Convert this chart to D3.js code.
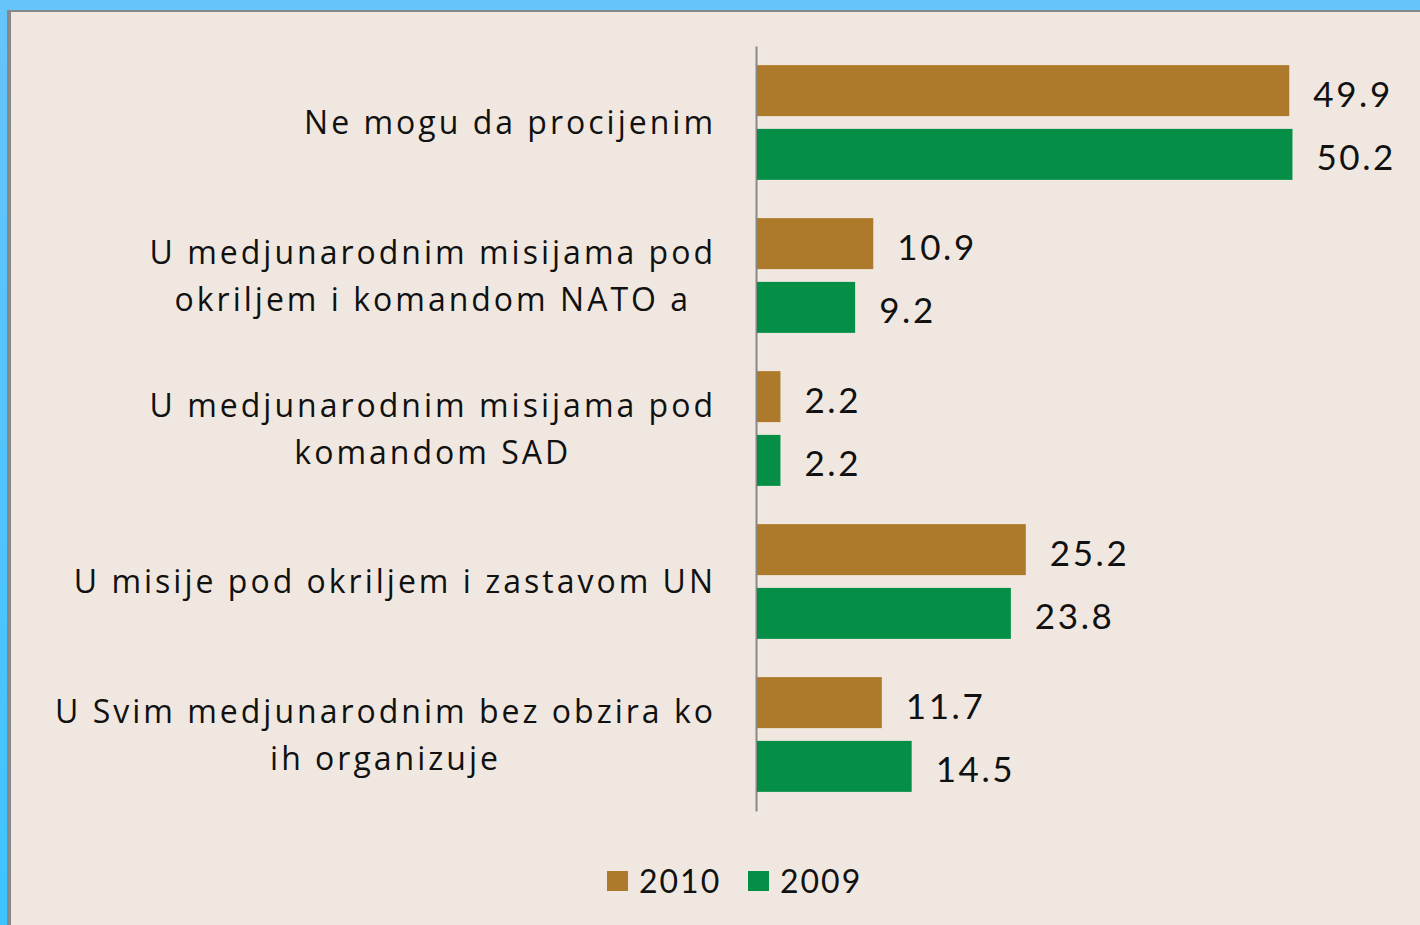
<!DOCTYPE html>
<html>
<head>
<meta charset="utf-8">
<script src="https://cdn.jsdelivr.net/npm/d3@7"></script>
<style>
  html, body { margin: 0; padding: 0; background: #66c4fb; }
  svg { display: block; }
</style>
</head>
<body>
<div id="chart"></div>
<script>
// categories, each one split in lines the way the chart shows them
const categories = [
    ["Ne mogu da procijenim"],
    ["U medjunarodnim misijama pod", "okriljem i komandom NATO a"],
    ["U medjunarodnim misijama pod", "komandom SAD"],
    ["U misije pod okriljem i zastavom UN"],
    ["U Svim medjunarodnim bez obzira ko", "ih organizuje"]
];
const series = ["2010", "2009"];
const values2010 = [49.9, 10.9, 2.2, 25.2, 11.7];
const values2009 = [50.2, 9.2, 2.2, 23.8, 14.5];
const colors = ["#ad7a2c", "#058f46"];

const W = 1420, H = 925;
const svg = d3.select("#chart").append("svg")
    .attr("width", W)
    .attr("height", H);

// outer frame
const defs = svg.append("defs");
const grad = defs.append("linearGradient").attr("id", "bg").attr("x1", 0).attr("y1", 0).attr("x2", 0).attr("y2", 1);
grad.append("stop").attr("offset", 0).attr("stop-color", "#66c4fb");
grad.append("stop").attr("offset", 1).attr("stop-color", "#3ec4ff");
svg.append("rect").attr("width", W).attr("height", H).attr("fill", "url(#bg)");
svg.append("rect").attr("x", 7).attr("y", 10).attr("width", W).attr("height", H).attr("fill", "#888888");
svg.append("rect").attr("x", 11).attr("y", 12).attr("width", W).attr("height", H).attr("fill", "#f0e8e0");

const rows = categories.map((c, i) => ({ label: c, i: i, values: [values2010[i], values2009[i]] }));

const x = d3.scaleLinear().domain([0, 60]).range([757, 1397]);
const y = d3.scaleBand().domain(d3.range(categories.length)).range([46, 811]).paddingInner(0.25).paddingOuter(0.125);
const y1 = d3.scaleBand().domain(series).range([0, y.bandwidth()]).paddingInner(0.2);

const font = "Lato, 'Open Sans', sans-serif";
const labelFont = "'Open Sans', Lato, sans-serif";

// axis line on the left of the bars
svg.append("g")
    .attr("transform", "translate(756,0)")
    .call(d3.axisLeft(d3.scaleLinear().range([46, 811])).ticks(0).tickSizeOuter(0))
    .call(g => g.select(".domain").attr("stroke", "#888888").attr("stroke-width", 2));

const groups = svg.selectAll("g.grp")
    .data(rows)
    .enter()
    .append("g")
    .attr("class", "grp")
    .attr("transform", d => `translate(0,${y(d.i)})`);

const bars = groups.selectAll("g.bar")
    .data(d => d.values.map((v, k) => ({ v: v, s: series[k], k: k })))
    .enter()
    .append("g")
    .attr("class", "bar");

bars.append("rect")
    .attr("x", x(0))
    .attr("y", d => y1(d.s))
    .attr("width", d => x(d.v) - x(0))
    .attr("height", y1.bandwidth())
    .attr("fill", d => colors[d.k]);

bars.append("text")
    .attr("x", d => x(d.v) + 24)
    .attr("y", d => y1(d.s) + y1.bandwidth() / 2 + 2)
    .attr("dominant-baseline", "central")
    .attr("font-family", font)
    .attr("font-size", 35)
    .attr("letter-spacing", 2.6)
    .attr("fill", "#111")
    .text(d => d.v.toFixed(1));

// category labels: block right aligned at the axis, lines centred inside it
const lineH = 47;
const labelRight = 716;
groups.append("text")
    .attr("text-anchor", "middle")
    .attr("font-family", labelFont)
    .attr("font-size", 32)
    .attr("letter-spacing", 3)
    .attr("fill", "#111")
    .each(function (d) {
        const t = d3.select(this);
        const n = d.label.length;
        const spans = d.label.map((line, j) => t.append("tspan")
            .attr("y", y.bandwidth() / 2 - 1 + (j - (n - 1) / 2) * lineH)
            .attr("dominant-baseline", "central")
            .text(line));
        const maxW = d3.max(spans, s => s.node().getComputedTextLength());
        spans.forEach(s => s.attr("x", labelRight - maxW / 2));
    });

// legend
const legend = svg.append("g").attr("transform", "translate(607,871)");
const items = legend.selectAll("g")
    .data(series)
    .enter()
    .append("g")
    .attr("transform", (d, i) => `translate(${i * 141},0)`);
items.append("rect")
    .attr("width", 21)
    .attr("height", 20)
    .attr("fill", (d, i) => colors[i]);
items.append("text")
    .attr("x", 32)
    .attr("y", 9)
    .attr("dominant-baseline", "central")
    .attr("font-family", font)
    .attr("font-size", 32)
    .attr("letter-spacing", 2)
    .attr("fill", "#111")
    .text(d => d);
</script>
</body>
</html>
